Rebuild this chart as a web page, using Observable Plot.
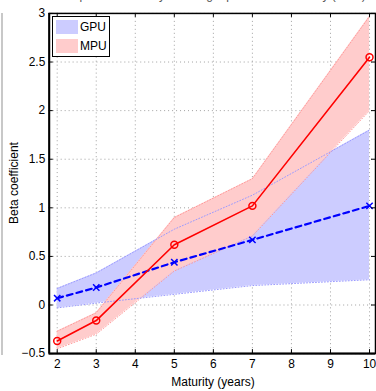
<!DOCTYPE html>
<html>
<head>
<meta charset="utf-8">
<script src="https://cdn.jsdelivr.net/npm/d3@7"></script>
<script src="https://cdn.jsdelivr.net/npm/@observablehq/plot@0.6"></script>
<style>
  html, body { margin: 0; padding: 0; background: #fff; overflow: hidden; }
  #wrap { position: relative; width: 376px; height: 391px; overflow: hidden; font-family: "Liberation Sans", Arial, sans-serif; }
  #title { position: absolute; top: -11px; left: 0; width: 424px; text-align: center; font-size: 12px; line-height: 12px; color: #555; white-space: nowrap; }
  #edge { position: absolute; left: 1px; top: 13px; width: 2px; height: 342px; background: #c8c8c8; }
  #legend { position: absolute; left: 52px; top: 16px; width: 56px; height: 39px; border: 1.5px solid #000; background: #fff; }
  .sw { position: absolute; left: 3px; width: 22px; height: 14px; }
  .lt { position: absolute; left: 27px; font-size: 12px; line-height: 14px; color: #000; }
  #ylab { position: absolute; left: 14px; top: 183px; transform: translate(-50%, -50%) rotate(-90deg); font-size: 12px; white-space: nowrap; color: #000; }
  #xlab { position: absolute; left: 213px; top: 382px; transform: translate(-50%, -50%); font-size: 12px; white-space: nowrap; color: #000; }
</style>
</head>
<body>
<div id="wrap">
  <div id="chart"></div>
  <div id="title">Response of bond yields to geopolitical uncertainty (GPU)</div>
  <div id="edge"></div>
  <div id="legend">
    <div class="sw" style="top:3px;background:#ccccff"></div><div class="lt" style="top:3px">GPU</div>
    <div class="sw" style="top:22px;background:#ffcccc"></div><div class="lt" style="top:22px">MPU</div>
  </div>
  <div id="ylab">Beta coefficient</div>
  <div id="xlab">Maturity (years)</div>
</div>
<script>
const maturities = [2, 3, 5, 7, 10];
const gpuBeta  = [0.07, 0.18, 0.44, 0.67, 1.02];
const gpuLower = [-0.03, 0.02, 0.11, 0.20, 0.26];
const gpuUpper = [0.17, 0.33, 0.78, 1.13, 1.80];
const mpuBeta  = [-0.37, -0.16, 0.62, 1.02, 2.55];
const mpuLower = [-0.45, -0.30, 0.35, 0.71, 2.00];
const mpuUpper = [-0.27, -0.08, 0.90, 1.30, 2.97];
const xTicks = [2, 3, 4, 5, 6, 7, 8, 9, 10];
const yTicks = [-0.5, 0, 0.5, 1, 1.5, 2, 2.5, 3];

const gpu = maturities.map((m, i) => ({m, b: gpuBeta[i], lo: gpuLower[i], hi: gpuUpper[i]}));
const mpu = maturities.map((m, i) => ({m, b: mpuBeta[i], lo: mpuLower[i], hi: mpuUpper[i]}));
const fmt = d => (d < 0 ? "\u2212" : "") + Math.abs(d);

const X0 = 1.796, X1 = 10.153, Y0 = -0.5, Y1 = 3;
const tx = 4 / 39.25, ty = 4 / 97.4;

const chart = Plot.plot({
  width: 378,
  height: 391,
  marginLeft: 49,
  marginRight: 1,
  marginTop: 13,
  marginBottom: 36,
  style: {fontFamily: "Liberation Sans, Arial, sans-serif", fontSize: "12px", color: "#000", background: "#fff"},
  x: {domain: [X0, X1]},
  y: {domain: [Y0, Y1]},
  marks: [
    Plot.gridX(xTicks, {stroke: "#888", strokeOpacity: 1, strokeWidth: 0.8, strokeDasharray: "1,3"}),
    Plot.gridY(yTicks, {stroke: "#888", strokeOpacity: 1, strokeWidth: 0.8, strokeDasharray: "1,3"}),
    Plot.areaY(gpu, {x: "m", y1: "lo", y2: "hi", fill: "#ccccff", fillOpacity: 1}),
    Plot.areaY(mpu, {x: "m", y1: "lo", y2: "hi", fill: "#ffcccc", fillOpacity: 1}),
    Plot.line(mpu, {x: "m", y: "lo", stroke: "#ff9999", strokeWidth: 1, strokeDasharray: "1,2"}),
    Plot.line(mpu, {x: "m", y: "hi", stroke: "#ff9999", strokeWidth: 1, strokeDasharray: "1,2"}),
    Plot.line(gpu, {x: "m", y: "lo", stroke: "#9999ff", strokeWidth: 1, strokeDasharray: "1,2"}),
    Plot.line(gpu, {x: "m", y: "hi", stroke: "#9999ff", strokeWidth: 1, strokeDasharray: "1,2"}),
    Plot.line(gpu, {x: "m", y: "b", stroke: "#0000ff", strokeWidth: 2.2, strokeDasharray: "6,4"}),
    Plot.dot(gpu, {x: "m", y: "b", symbol: "times", stroke: "#0000ff", strokeWidth: 1.5, r: 3}),
    Plot.line(mpu, {x: "m", y: "b", stroke: "#ff0000", strokeWidth: 1.6}),
    Plot.dot(mpu, {x: "m", y: "b", symbol: "circle", stroke: "#ff0000", fill: "none", strokeWidth: 1.5, r: 3.5}),
    Plot.axisY(yTicks, {anchor: "left", tickSize: 0, tickPadding: 4, tickFormat: fmt, label: null, fontSize: 12}),
    Plot.axisX(xTicks, {anchor: "bottom", tickSize: 0, tickPadding: 6, tickFormat: fmt, label: null, fontSize: 12}),
    Plot.ruleX(xTicks, {x: d => d, y1: Y0, y2: Y0 + ty, stroke: "#000", strokeWidth: 1}),
    Plot.ruleX(xTicks, {x: d => d, y1: Y1, y2: Y1 - ty, stroke: "#000", strokeWidth: 1}),
    Plot.ruleY(yTicks, {y: d => d, x1: X0, x2: X0 + tx, stroke: "#000", strokeWidth: 1}),
    Plot.ruleY(yTicks, {y: d => d, x1: X1, x2: X1 - tx, stroke: "#000", strokeWidth: 1}),
    Plot.frame({stroke: "#000", strokeWidth: 1.5}),
    Plot.ruleY([Y0], {stroke: "#000", strokeWidth: 2}),
    Plot.ruleX([X0], {stroke: "#000", strokeWidth: 2})
  ]
});
document.getElementById("chart").appendChild(chart);
</script>
</body>
</html>
